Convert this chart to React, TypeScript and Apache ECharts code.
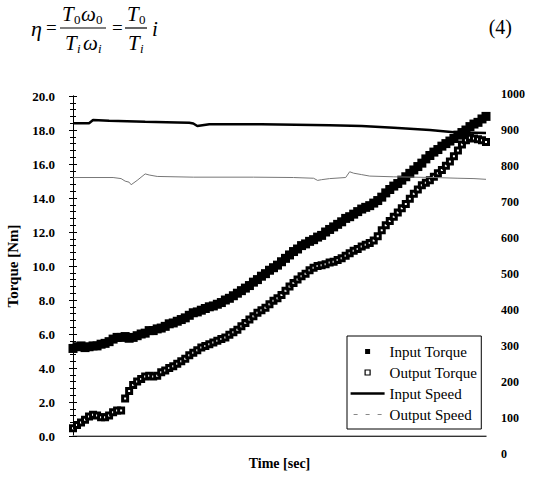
import React, { useEffect, useRef } from "react";
import * as echarts from "echarts";

// Torque samples (equally spaced in time, sample index = position)
const inputTorque = [
  5.15, 5.25, 5.3, 5.2, 5.25, 5.3, 5.3, 5.4, 5.45, 5.55,
  5.7, 5.8, 5.8, 5.85, 5.75, 5.8, 5.9, 6.0, 6.05, 6.2,
  6.2, 6.3, 6.35, 6.45, 6.6, 6.65, 6.75, 6.85, 6.95, 7.1,
  7.25, 7.3, 7.4, 7.5, 7.6, 7.65, 7.75, 7.85, 8.0, 8.1,
  8.25, 8.4, 8.55, 8.7, 8.85, 9.05, 9.2, 9.4, 9.55, 9.75,
  9.9, 10.05, 10.25, 10.45, 10.65, 10.85, 11.0, 11.2, 11.3, 11.45,
  11.55, 11.7, 11.8, 12.0, 12.15, 12.3, 12.45, 12.6, 12.8, 12.9,
  13.05, 13.2, 13.35, 13.45, 13.55, 13.7, 13.85, 14.05, 14.3, 14.5,
  14.7, 14.85, 15.05, 15.25, 15.45, 15.65, 15.85, 16.05, 16.3, 16.5,
  16.7, 16.85, 17.05, 17.2, 17.35, 17.5, 17.7, 17.85, 18.0, 18.2,
  18.35, 18.45, 18.65, 18.8,
];
const outputTorque = [
  0.45, 0.65, 0.8, 0.95, 1.15, 1.25, 1.2, 1.1, 1.1, 1.2,
  1.4, 1.5, 1.5, 2.2, 2.65, 3.0, 3.2, 3.35, 3.5, 3.55,
  3.5, 3.55, 3.75, 3.85, 4.0, 4.1, 4.25, 4.4, 4.55, 4.75,
  4.9, 5.05, 5.2, 5.3, 5.4, 5.5, 5.6, 5.7, 5.8, 5.95,
  6.1, 6.25, 6.45, 6.65, 6.85, 7.05, 7.25, 7.4, 7.55, 7.75,
  7.95, 8.1, 8.3, 8.55, 8.8, 9.0, 9.2, 9.4, 9.55, 9.75,
  9.9, 10.0, 10.05, 10.1, 10.2, 10.25, 10.35, 10.45, 10.6, 10.75,
  10.9, 11.0, 11.15, 11.25, 11.35, 11.5, 11.75, 12.1, 12.4, 12.65,
  12.9, 13.15, 13.4, 13.65, 13.95, 14.25, 14.5, 14.75, 14.9, 15.05,
  15.25, 15.45, 15.65, 15.9, 16.15, 16.45, 16.8, 17.15, 17.4, 17.55,
  17.5, 17.45, 17.4, 17.3,
];

// Speeds (right axis), sampled at these sample indices
const inputSpeedTime = [0, 4, 5, 9, 18, 26, 29, 30, 31, 34, 47, 64, 72, 80, 89, 95, 103];
const inputSpeed = [919, 919, 928, 926, 923, 921, 920, 918, 911, 916, 916, 913, 911, 906, 900, 894, 892];
const outputSpeedTime = [0, 10, 12, 13, 14, 14.5, 16, 18, 19, 21, 30, 45, 55, 60, 61, 62, 64, 68, 69, 70, 72, 74, 80, 90, 96, 100, 103];
const outputSpeed = [768, 768, 765, 758, 755, 748, 760, 778, 775, 771, 769, 769, 768, 766, 760, 762, 765, 768, 784, 780, 776, 772, 770, 768, 766, 765, 763];

const torqueMin = 0;
const torqueMax = 20;
const torqueStep = 2;
const speedMin = 0;
const speedMax = 1000;
const speedStep = 100;
const lastSample = 103;

const SERIF = "'Liberation Serif', 'Times New Roman', serif";

// legend icons (the leading moves fix the icon box to 34x6 so marks keep their size)
const ICON_SQUARE = "path://M0,0M34,6M14.5,0.5h5v5h-5z";
const ICON_THICK_LINE = "path://M0,0M34,6M0,1.8h34v2.4h-34z";
const ICON_DASHED_LINE = "path://M0,0M34,6M3,2.5h4v1h-4zM15,2.5h4v1h-4zM27,2.5h4v1h-4z";

function txt(text: string, x: number, y: number, size: number, italic: boolean, align = "left") {
  return {
    type: "text",
    x,
    y,
    silent: true,
    style: {
      text,
      fontSize: size,
      fontFamily: SERIF,
      fontStyle: italic ? "italic" : "normal",
      fill: "#000",
      align,
      verticalAlign: "middle",
    },
  };
}
function bar(x1: number, x2: number, y: number) {
  return {
    type: "line",
    silent: true,
    shape: { x1, y1: y, x2, y2: y },
    style: { stroke: "#000", lineWidth: 1.2 },
  };
}

export default function App() {
  const ref = useRef<HTMLDivElement>(null);
  useEffect(() => {
    const chart = echarts.init(ref.current!, null, { renderer: "svg" });
    const graphic = [
      txt("η", 31, 28, 22, true),
      txt("=", 46, 27, 19, false),
      txt("T", 62, 14, 21, true),
      txt("0", 74, 19, 13, false),
      txt("ω", 81, 14, 21, true),
      txt("0", 96, 19, 13, false),
      bar(60, 106, 28),
      txt("T", 65, 43, 21, true),
      txt("i", 77, 48, 13, true),
      txt("ω", 83, 43, 21, true),
      txt("i", 98, 48, 13, true),
      txt("=", 112, 27, 19, false),
      txt("T", 127, 14, 21, true),
      txt("0", 139, 19, 13, false),
      bar(125, 147, 28),
      txt("T", 128, 43, 21, true),
      txt("i", 140, 48, 13, true),
      txt("i", 152, 29, 21, true),
      txt("(4)", 512, 27, 20, false, "right"),
    ];

    const axisFont = { fontFamily: SERIF, color: "#000", fontWeight: "bold" as const };

    chart.setOption({
      animation: false,
      graphic,
      grid: [
        { left: 73, right: 48, top: 96, bottom: 41, containLabel: false, outerBoundsMode: "none" },
        { left: 73, right: 48, top: 94, bottom: 23, containLabel: false, outerBoundsMode: "none" },
      ],
      legend: {
        orient: "vertical",
        left: 347,
        top: 336,
        padding: [8, 4, 7, 3],
        itemGap: 6,
        itemWidth: 34,
        itemHeight: 6,
        backgroundColor: "#fff",
        borderColor: "#000",
        borderWidth: 1,
        textStyle: { fontFamily: SERIF, fontSize: 15, color: "#000" },
        data: [
          { name: "Input Torque", icon: ICON_SQUARE, itemStyle: { color: "#000" } },
          {
            name: "Output Torque",
            icon: ICON_SQUARE,
            itemStyle: { color: "#fff", borderColor: "#000", borderWidth: 1.2 },
          },
          { name: "Input Speed", icon: ICON_THICK_LINE, itemStyle: { color: "#000" } },
          { name: "Output Speed", icon: ICON_DASHED_LINE, itemStyle: { color: "#888" } },
        ],
      },
      xAxis: [
        {
          gridIndex: 0,
          type: "value",
          min: 0,
          max: lastSample,
          position: "bottom",
          axisLine: { show: true, lineStyle: { color: "#999", width: 1.5 } },
          axisTick: { show: false },
          axisLabel: { show: false },
          splitLine: { show: false },
          name: "Time [sec]",
          nameLocation: "middle",
          nameGap: 20,
          nameTextStyle: { ...axisFont, fontSize: 14 },
        },
        {
          gridIndex: 0,
          type: "value",
          min: 0,
          max: lastSample,
          position: "top",
          axisLine: { show: true, lineStyle: { color: "#333", width: 1 } },
          axisTick: { show: false },
          axisLabel: { show: false },
          splitLine: { show: false },
        },
        { gridIndex: 1, type: "value", min: 0, max: lastSample, show: false },
      ],
      yAxis: [
        {
          gridIndex: 0,
          type: "value",
          min: torqueMin,
          max: torqueMax,
          interval: torqueStep,
          position: "left",
          axisLine: { show: true, lineStyle: { color: "#000", width: 1 } },
          axisTick: { show: true, inside: true, length: 4, lineStyle: { color: "#000" } },
          minorTick: { show: true, splitNumber: 5, length: 3, lineStyle: { color: "#000" } },
          splitLine: { show: false },
          axisLabel: {
            ...axisFont,
            fontSize: 13,
            margin: 18,
            padding: [8, 0, 0, 0],
            formatter: (v: number) => v.toFixed(1),
          },
          name: "Torque [Nm]",
          nameLocation: "middle",
          nameGap: 53,
          nameTextStyle: { ...axisFont, fontSize: 15 },
        },
        {
          gridIndex: 0,
          type: "value",
          min: torqueMin,
          max: torqueMax,
          interval: torqueStep,
          position: "right",
          axisLine: { show: true, lineStyle: { color: "#000", width: 1 } },
          axisTick: { show: true, inside: true, length: 4, lineStyle: { color: "#000" } },
          minorTick: { show: true, splitNumber: 5, length: 3, lineStyle: { color: "#000" } },
          splitLine: { show: false },
          axisLabel: { show: false },
        },
        {
          gridIndex: 1,
          type: "value",
          min: speedMin,
          max: speedMax,
          interval: speedStep,
          position: "right",
          axisLine: { show: false },
          axisTick: { show: false },
          splitLine: { show: false },
          axisLabel: { ...axisFont, fontSize: 12, margin: 15, formatter: (v: number) => String(v) },
        },
      ],
      series: [
        {
          name: "Input Speed",
          type: "line",
          xAxisIndex: 2,
          yAxisIndex: 2,
          symbol: "none",
          data: inputSpeedTime.map((t, i) => [t, inputSpeed[i]]),
          lineStyle: { color: "#000", width: 2.5 },
          itemStyle: { color: "#000" },
        },
        {
          name: "Output Speed",
          type: "line",
          xAxisIndex: 2,
          yAxisIndex: 2,
          symbol: "none",
          data: outputSpeedTime.map((t, i) => [t, outputSpeed[i]]),
          lineStyle: { color: "#777", width: 1 },
          itemStyle: { color: "#777" },
        },
        {
          name: "Input Torque",
          type: "scatter",
          xAxisIndex: 0,
          yAxisIndex: 0,
          symbol: "rect",
          symbolSize: 9,
          data: inputTorque.map((v, i) => [i, v]),
          itemStyle: { color: "#000", opacity: 1 },
        },
        {
          name: "Output Torque",
          type: "scatter",
          xAxisIndex: 0,
          yAxisIndex: 0,
          symbol: "rect",
          symbolSize: 5,
          data: outputTorque.map((v, i) => [i, v]),
          itemStyle: { color: "#fff", borderColor: "#000", borderWidth: 3, opacity: 1 },
        },
      ],
    });
    return () => chart.dispose();
  }, []);
  return (
    <div
      ref={ref}
      style={{ position: "fixed", left: 0, top: 0, width: 534, height: 477, background: "#fff" }}
    />
  );
}
